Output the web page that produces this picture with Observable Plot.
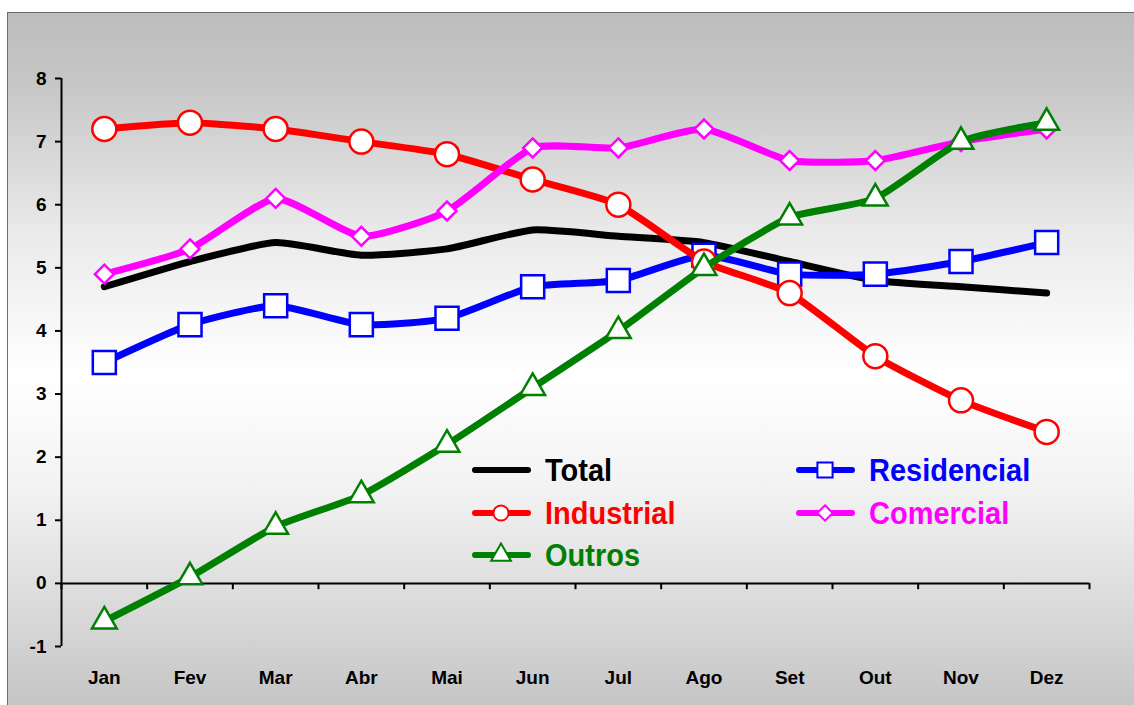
<!DOCTYPE html>
<html>
<head>
<meta charset="utf-8">
<script src="https://cdn.jsdelivr.net/npm/d3@7"></script>
<script src="https://cdn.jsdelivr.net/npm/@observablehq/plot@0.6"></script>
<style>
  html, body { margin: 0; padding: 0; background: #fff; }
  #wrap { position: relative; width: 1134px; height: 705px; overflow: hidden; font-family: "Liberation Sans", Arial, sans-serif; }
  #frame { position: absolute; left: 7px; top: 12px; width: 1140px; height: 700px;
    border-left: 1.5px solid #6a6a6a; border-top: 1.5px solid #6a6a6a;
    background: linear-gradient(to bottom, #bdbdbd 0%, #c6c6c6 10%, #ebebeb 32%, #ffffff 52%, #f2f2f2 68%, #dadada 85%, #c3c3c3 100%); }
  #chart { position: absolute; left: 0; top: 0; }
  #chart svg text { font-size: 19px; font-weight: bold; }
  .leg { position: absolute; display: flex; align-items: center; font-weight: bold; font-size: 29px; }
  .leg svg { display: block; }
  .leg span { display: inline-block; transform: scaleY(1.1); margin-left: 13px; line-height: 1; }
</style>
</head>
<body>
<div id="wrap">
  <div id="frame"></div>
  <div id="chart"></div>
</div>
<script>
const months = ["Jan","Fev","Mar","Abr","Mai","Jun","Jul","Ago","Set","Out","Nov","Dez"];
const total       = [4.7, 5.1, 5.4, 5.2, 5.3, 5.6, 5.5, 5.4, 5.1, 4.8, 4.7, 4.6];
const residencial = [3.5, 4.1, 4.4, 4.1, 4.2, 4.7, 4.8, 5.2, 4.9, 4.9, 5.1, 5.4];
const industrial  = [7.2, 7.3, 7.2, 7.0, 6.8, 6.4, 6.0, 5.1, 4.6, 3.6, 2.9, 2.4];
const comercial   = [4.9, 5.3, 6.1, 5.5, 5.9, 6.9, 6.9, 7.2, 6.7, 6.7, 7.0, 7.2];
const outros      = [-0.6, 0.1, 0.9, 1.4, 2.2, 3.1, 4.0, 5.0, 5.8, 6.1, 7.0, 7.3];
const yTicks = [-1, 0, 1, 2, 3, 4, 5, 6, 7, 8];

const seriesDefs = [
  {name: "Total", values: total, color: "#000000", symbol: null, r: 0},
  {name: "Residencial", values: residencial, color: "#0000ff", symbol: "square", r: 13},
  {name: "Industrial", values: industrial, color: "#ff0000", symbol: "circle", r: 12},
  {name: "Comercial", values: comercial, color: "#ff00ff", symbol: "diamond2", r: 8.5},
  {name: "Outros", values: outros, color: "#008000", symbol: "triangle", r: 9.2}
];

const idx = d3.range(months.length);
const marks = [];
marks.push(Plot.ruleX([-0.5], {y1: yTicks[0], y2: yTicks[yTicks.length - 1], stroke: "#000", strokeWidth: 2}));
marks.push(Plot.ruleY([0], {x1: -0.5, x2: months.length - 0.5, stroke: "#000", strokeWidth: 2}));
marks.push(Plot.ruleX(d3.range(months.length + 1).map(i => i - 0.5), {y1: 0, y2: -0.1, stroke: "#000", strokeWidth: 2}));
marks.push(Plot.axisY({ticks: yTicks, tickFormat: d => String(d), tickSize: 6, tickPadding: 9, fontSize: 19, fontWeight: "bold", strokeWidth: 2, label: null}));
marks.push(Plot.axisX({ticks: idx, tickFormat: i => months[i], tickSize: 0, tickPadding: 24, fontSize: 19, fontWeight: "bold", label: null}));

for (const s of seriesDefs) {
  const data = idx.map(i => ({x: i, y: s.values[i]}));
  marks.push(Plot.line(data, {x: "x", y: "y", stroke: s.color, strokeWidth: 7, curve: "cardinal", tension: 0.45, strokeLinecap: "round", strokeLinejoin: "round"}));
  if (s.symbol) {
    marks.push(Plot.dot(data, {x: "x", y: "y", symbol: s.symbol, r: s.r, fill: "#fff", stroke: s.color, strokeWidth: 2.5}));
  }
}

const chart = Plot.plot({
  width: 1134,
  height: 705,
  marginLeft: 61,
  marginRight: 45,
  marginTop: 78,
  marginBottom: 59,
  x: {domain: [-0.5, months.length - 0.5], axis: null},
  y: {domain: [yTicks[0], yTicks[yTicks.length - 1]], axis: null},
  style: {background: "transparent", fontFamily: "'Liberation Sans', Arial, sans-serif", fontSize: "19px", color: "#000"},
  marks
});
document.getElementById("chart").appendChild(chart);

const wrap = document.getElementById("wrap");
const legendPos = [
  {name: "Total", left: 470, top: 470},
  {name: "Residencial", left: 794, top: 470},
  {name: "Industrial", left: 470, top: 513},
  {name: "Comercial", left: 794, top: 513},
  {name: "Outros", left: 470, top: 555}
];
for (const p of legendPos) {
  const s = seriesDefs.find(d => d.name === p.name);
  const div = document.createElement("div");
  div.className = "leg";
  div.style.left = p.left + "px";
  div.style.top = (p.top - 20) + "px";
  div.style.height = "40px";
  div.style.color = s.color;
  const svg = d3.create("svg").attr("width", 62).attr("height", 40);
  svg.append("line").attr("x1", 5).attr("x2", 58).attr("y1", 20).attr("y2", 20)
    .attr("stroke", s.color).attr("stroke-width", 6).attr("stroke-linecap", "round");
  if (s.symbol) {
    const symMap = {square: d3.symbolSquare, circle: d3.symbolCircle, diamond2: d3.symbolDiamond2, triangle: d3.symbolTriangle};
    const sz = {square: 230, circle: 180, diamond2: 150, triangle: 170}[s.symbol];
    svg.append("path").attr("d", d3.symbol(symMap[s.symbol], sz)())
      .attr("transform", "translate(31,20)")
      .attr("fill", "#fff").attr("stroke", s.color).attr("stroke-width", 2);
  }
  div.appendChild(svg.node());
  const span = document.createElement("span");
  span.textContent = s.name;
  div.appendChild(span);
  wrap.appendChild(div);
}
</script>
</body>
</html>
